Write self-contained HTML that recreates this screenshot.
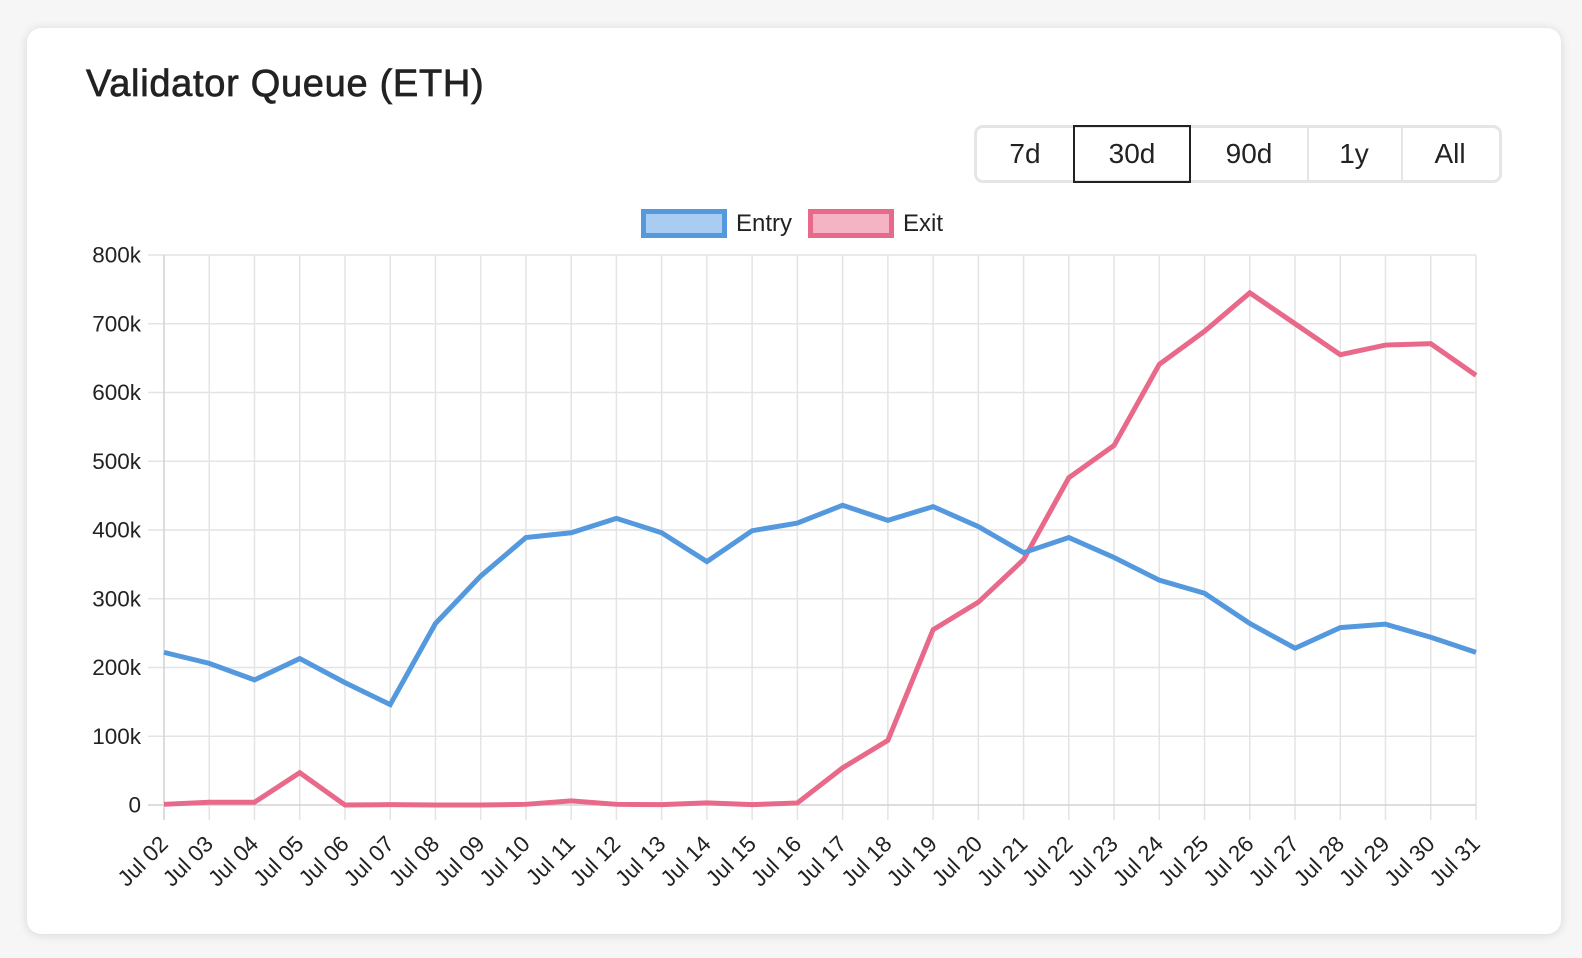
<!DOCTYPE html>
<html>
<head>
<meta charset="utf-8">
<style>
  html, body { margin:0; padding:0; }
  body { width:1582px; height:958px; background:#f6f6f6; position:relative; overflow:hidden; font-family:"Liberation Sans", Arial, sans-serif; }
  .card { position:absolute; left:27px; top:28px; width:1534px; height:906px; background:#fff; border-radius:14px; box-shadow:0 1px 10px rgba(0,0,0,0.13); }
  .title { position:absolute; left:86px; top:62px; font-size:38px; letter-spacing:0.7px; color:#222; -webkit-text-stroke:0.7px #222; line-height:44px; white-space:nowrap; }
  .group { position:absolute; left:974px; top:125px; width:522px; height:52px; border:3px solid #e3e5e7; border-radius:9px; }
  .btn { position:absolute; top:128px; height:52px; font-size:28px; color:#222; text-align:center; line-height:52px; }
  .sep { position:absolute; top:128px; width:1.5px; height:52px; background:#e3e5e7; }
  .sel { position:absolute; left:1073px; top:125px; width:114px; height:54px; border:2px solid #222; }
</style>
</head>
<body>
<div class="card"></div>
<div class="title">Validator Queue (ETH)</div>

<div class="group"></div>
<div class="sep" style="left:1307px"></div>
<div class="sep" style="left:1401px"></div>
<div class="sel"></div>
<div class="btn" style="left:977px;width:96px">7d</div>
<div class="btn" style="left:1073px;width:118px">30d</div>
<div class="btn" style="left:1191px;width:116px">90d</div>
<div class="btn" style="left:1307px;width:94px">1y</div>
<div class="btn" style="left:1401px;width:98px">All</div>

<svg width="1582" height="958" style="position:absolute;left:0;top:0" xmlns="http://www.w3.org/2000/svg">
  <!-- legend -->
  <rect x="643.5" y="211.5" width="81" height="24" fill="#a9cdf2" stroke="#5499de" stroke-width="5"/>
  <text x="736" y="231" font-family="Liberation Sans, Arial, sans-serif" font-size="24" fill="#222">Entry</text>
  <rect x="810.5" y="211.5" width="81" height="24" fill="#f5b3c3" stroke="#e8698a" stroke-width="5"/>
  <text x="903" y="231" font-family="Liberation Sans, Arial, sans-serif" font-size="24" fill="#222">Exit</text>

  <!-- horizontal grid -->
  <g stroke="#e4e4e4" stroke-width="1.5">
    <line x1="148" y1="255" x2="1476" y2="255"/>
    <line x1="148" y1="323.75" x2="1476" y2="323.75"/>
    <line x1="148" y1="392.5" x2="1476" y2="392.5"/>
    <line x1="148" y1="461.25" x2="1476" y2="461.25"/>
    <line x1="148" y1="530" x2="1476" y2="530"/>
    <line x1="148" y1="598.75" x2="1476" y2="598.75"/>
    <line x1="148" y1="667.5" x2="1476" y2="667.5"/>
    <line x1="148" y1="736.25" x2="1476" y2="736.25"/>
  </g>
  <!-- vertical grid -->
  <g stroke="#e4e4e4" stroke-width="1.5">
    <line x1="209.24" y1="255" x2="209.24" y2="820"/>
    <line x1="254.48" y1="255" x2="254.48" y2="820"/>
    <line x1="299.72" y1="255" x2="299.72" y2="820"/>
    <line x1="344.97" y1="255" x2="344.97" y2="820"/>
    <line x1="390.21" y1="255" x2="390.21" y2="820"/>
    <line x1="435.45" y1="255" x2="435.45" y2="820"/>
    <line x1="480.69" y1="255" x2="480.69" y2="820"/>
    <line x1="525.93" y1="255" x2="525.93" y2="820"/>
    <line x1="571.17" y1="255" x2="571.17" y2="820"/>
    <line x1="616.41" y1="255" x2="616.41" y2="820"/>
    <line x1="661.66" y1="255" x2="661.66" y2="820"/>
    <line x1="706.90" y1="255" x2="706.90" y2="820"/>
    <line x1="752.14" y1="255" x2="752.14" y2="820"/>
    <line x1="797.38" y1="255" x2="797.38" y2="820"/>
    <line x1="842.62" y1="255" x2="842.62" y2="820"/>
    <line x1="887.86" y1="255" x2="887.86" y2="820"/>
    <line x1="933.10" y1="255" x2="933.10" y2="820"/>
    <line x1="978.34" y1="255" x2="978.34" y2="820"/>
    <line x1="1023.59" y1="255" x2="1023.59" y2="820"/>
    <line x1="1068.83" y1="255" x2="1068.83" y2="820"/>
    <line x1="1114.07" y1="255" x2="1114.07" y2="820"/>
    <line x1="1159.31" y1="255" x2="1159.31" y2="820"/>
    <line x1="1204.55" y1="255" x2="1204.55" y2="820"/>
    <line x1="1249.79" y1="255" x2="1249.79" y2="820"/>
    <line x1="1295.03" y1="255" x2="1295.03" y2="820"/>
    <line x1="1340.28" y1="255" x2="1340.28" y2="820"/>
    <line x1="1385.52" y1="255" x2="1385.52" y2="820"/>
    <line x1="1430.76" y1="255" x2="1430.76" y2="820"/>
    <line x1="1476" y1="255" x2="1476" y2="820"/>
  </g>
  <!-- axes -->
  <line x1="164" y1="255" x2="164" y2="820" stroke="#d2d2d2" stroke-width="1.5"/>
  <line x1="148" y1="805" x2="1476" y2="805" stroke="#d2d2d2" stroke-width="1.5"/>

  <!-- y labels -->
  <g font-family="Liberation Sans, Arial, sans-serif" font-size="22.5" fill="#222" text-anchor="end" dominant-baseline="central">
    <text x="141" y="255">800k</text>
    <text x="141" y="323.75">700k</text>
    <text x="141" y="392.5">600k</text>
    <text x="141" y="461.25">500k</text>
    <text x="141" y="530">400k</text>
    <text x="141" y="598.75">300k</text>
    <text x="141" y="667.5">200k</text>
    <text x="141" y="736.25">100k</text>
    <text x="141" y="805">0</text>
  </g>

  <!-- x labels -->
  <g font-family="Liberation Sans, Arial, sans-serif" font-size="22.5" fill="#222" text-anchor="end" dominant-baseline="central">
    <text x="164" y="840" transform="rotate(-45 164 840)">Jul 02</text>
    <text x="209.24" y="840" transform="rotate(-45 209.24 840)">Jul 03</text>
    <text x="254.48" y="840" transform="rotate(-45 254.48 840)">Jul 04</text>
    <text x="299.72" y="840" transform="rotate(-45 299.72 840)">Jul 05</text>
    <text x="344.97" y="840" transform="rotate(-45 344.97 840)">Jul 06</text>
    <text x="390.21" y="840" transform="rotate(-45 390.21 840)">Jul 07</text>
    <text x="435.45" y="840" transform="rotate(-45 435.45 840)">Jul 08</text>
    <text x="480.69" y="840" transform="rotate(-45 480.69 840)">Jul 09</text>
    <text x="525.93" y="840" transform="rotate(-45 525.93 840)">Jul 10</text>
    <text x="571.17" y="840" transform="rotate(-45 571.17 840)">Jul 11</text>
    <text x="616.41" y="840" transform="rotate(-45 616.41 840)">Jul 12</text>
    <text x="661.66" y="840" transform="rotate(-45 661.66 840)">Jul 13</text>
    <text x="706.90" y="840" transform="rotate(-45 706.90 840)">Jul 14</text>
    <text x="752.14" y="840" transform="rotate(-45 752.14 840)">Jul 15</text>
    <text x="797.38" y="840" transform="rotate(-45 797.38 840)">Jul 16</text>
    <text x="842.62" y="840" transform="rotate(-45 842.62 840)">Jul 17</text>
    <text x="887.86" y="840" transform="rotate(-45 887.86 840)">Jul 18</text>
    <text x="933.10" y="840" transform="rotate(-45 933.10 840)">Jul 19</text>
    <text x="978.34" y="840" transform="rotate(-45 978.34 840)">Jul 20</text>
    <text x="1023.59" y="840" transform="rotate(-45 1023.59 840)">Jul 21</text>
    <text x="1068.83" y="840" transform="rotate(-45 1068.83 840)">Jul 22</text>
    <text x="1114.07" y="840" transform="rotate(-45 1114.07 840)">Jul 23</text>
    <text x="1159.31" y="840" transform="rotate(-45 1159.31 840)">Jul 24</text>
    <text x="1204.55" y="840" transform="rotate(-45 1204.55 840)">Jul 25</text>
    <text x="1249.79" y="840" transform="rotate(-45 1249.79 840)">Jul 26</text>
    <text x="1295.03" y="840" transform="rotate(-45 1295.03 840)">Jul 27</text>
    <text x="1340.28" y="840" transform="rotate(-45 1340.28 840)">Jul 28</text>
    <text x="1385.52" y="840" transform="rotate(-45 1385.52 840)">Jul 29</text>
    <text x="1430.76" y="840" transform="rotate(-45 1430.76 840)">Jul 30</text>
    <text x="1476" y="840" transform="rotate(-45 1476 840)">Jul 31</text>
  </g>

  <!-- series (data coords: x = day index, y = value in k) -->
  <g transform="translate(164 805) scale(45.2414 -0.6875)">
    <polyline vector-effect="non-scaling-stroke" fill="none" stroke="#e8698a" stroke-width="5" stroke-linejoin="miter"
      points="0,1 1,4 2,4 3,47 4,0 5,0.5 6,0 7,0 8,1 9,6 10,1 11,0.5 12,3 13,0.5 14,3 15,54 16,94 17,255 18,295 19,357 20,476 21,523 22,641 23,689 24,745 25,700 26,655 27,669 28,671 29,625"/>
    <polyline vector-effect="non-scaling-stroke" fill="none" stroke="#5499de" stroke-width="5" stroke-linejoin="miter"
      points="0,222 1,206 2,182 3,213 4,178 5,146 6,264 7,333 8,389 9,396 10,417 11,396 12,354 13,399 14,410 15,436 16,414 17,434 18,405 19,367 20,389 21,360 22,327 23,308 24,264 25,228 26,258 27,263 28,244 29,222"/>
  </g>
</svg>
</body>
</html>
